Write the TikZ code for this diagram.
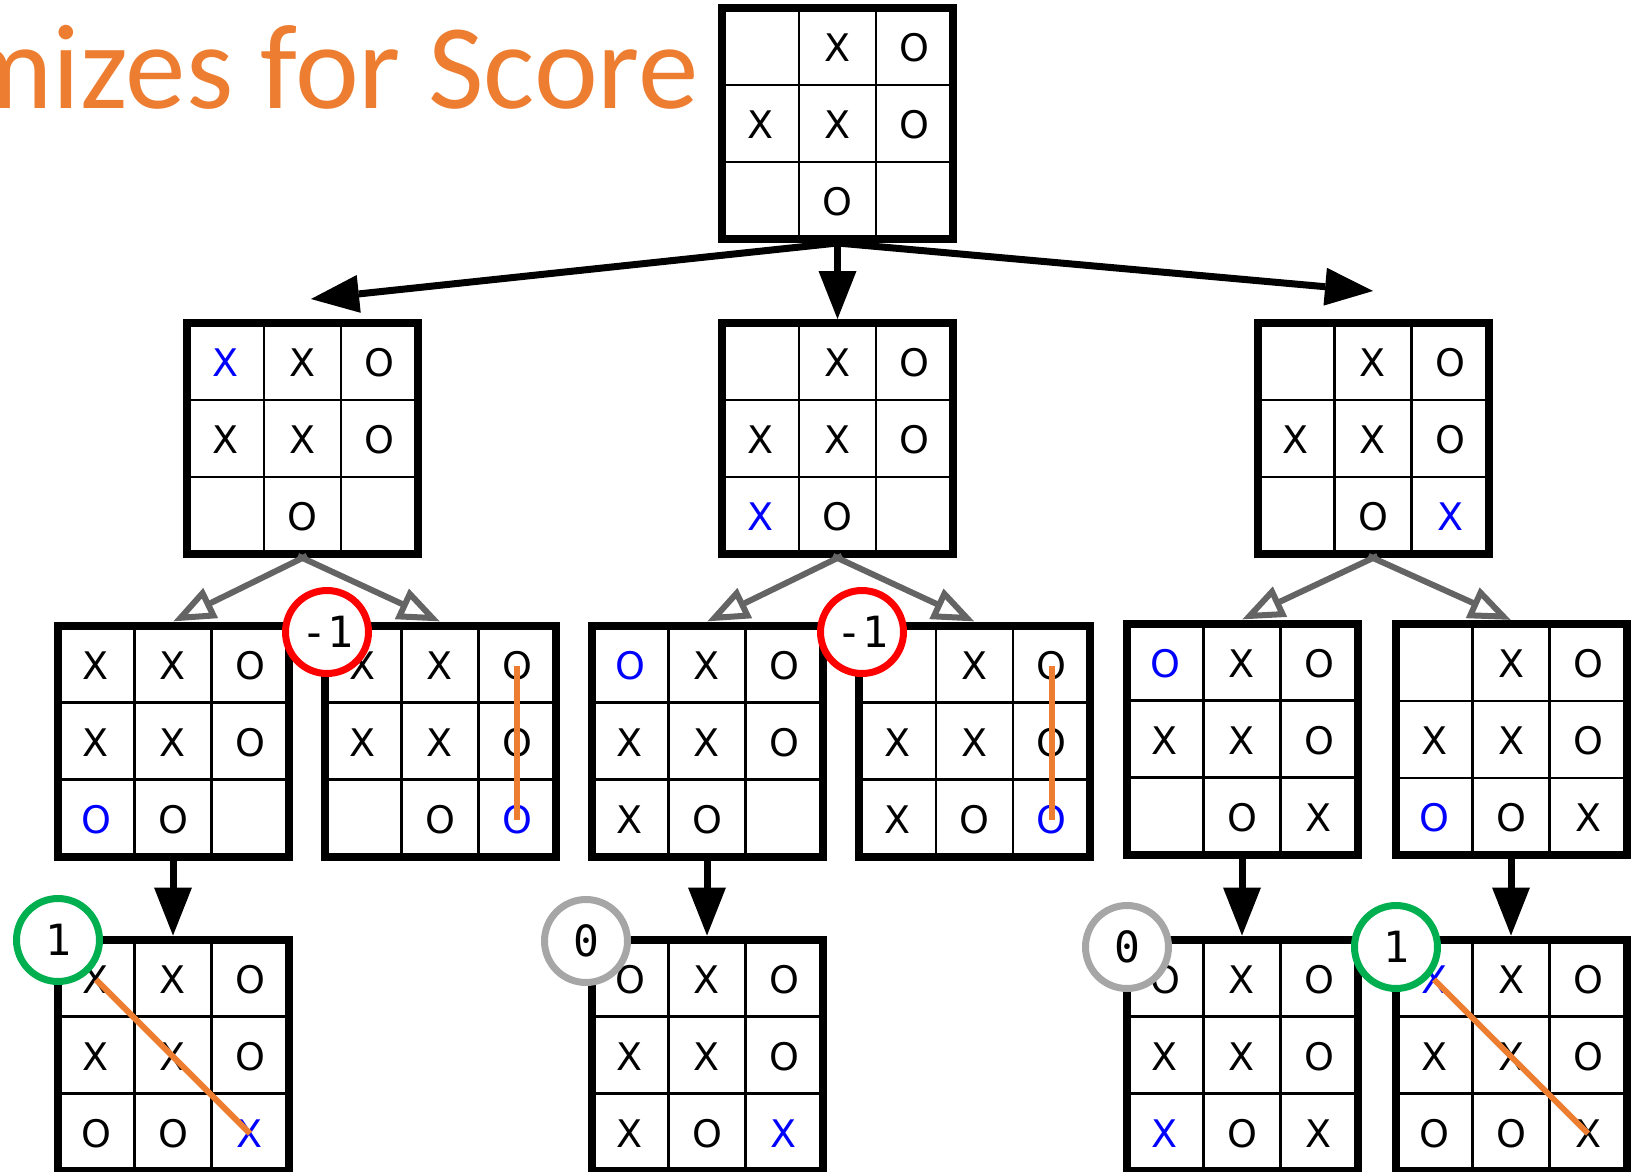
\documentclass[tikz,border=0pt]{standalone}
\usepackage{fontspec}
\setmainfont{DejaVu Sans}
\newfontfamily\monof{DejaVu Sans Mono}
\newfontfamily\titlef{Carlito}
\usetikzlibrary{arrows.meta,calc}
\definecolor{xorange}{RGB}{237,125,49}
\definecolor{xblue}{RGB}{0,0,255}
\definecolor{xgreen}{RGB}{0,176,80}
\definecolor{xred}{RGB}{255,0,0}
\definecolor{xgray}{RGB}{166,166,166}
\definecolor{arrgray}{RGB}{100,100,100}
\newcommand\bl[1]{\textcolor{xblue}{#1}}
\newcommand\tttboard[3]{%
  \node[board] (#1) at (#2) {};
  \draw[gridline] ($(#1.center)+(-38.5,-115.5)$) -- ++(0,231)
                  ($(#1.center)+(38.5,-115.5)$) -- ++(0,231)
                  ($(#1.center)+(-115.5,-38.5)$) -- ++(231,0)
                  ($(#1.center)+(-115.5,38.5)$) -- ++(231,0);
  \foreach \r/\c/\txt in {#3} {
    \node[cellmark] (#1-\r\c) at ($(#1.center)+(\c*77-154,\r*77-152.5)$) {\txt};
  }
}
\begin{document}
\begin{tikzpicture}[x=1pt,y=-1pt,
  board/.style={draw, line width=8pt, minimum size=231pt, inner sep=0pt, fill=white},
  gridline/.style={line width=2.5pt},
  cellmark/.style={inner sep=0pt, font=\fontsize{38}{40}\selectfont},
  bigarrow/.style={line width=7pt, -{Triangle[length=48pt,width=38pt,line width=0pt]}},
  grayarrow/.style={draw=arrgray, line width=6pt, -{Triangle[length=42pt,width=32pt,fill=white]}},
  winline/.style={draw=xorange, line width=6pt},
  scorecirc/.style={circle, fill=white, line width=7pt, minimum size=83pt, inner sep=0pt,
                    font=\monof\fontsize{43}{43}\selectfont},
  titletext/.style={anchor=base east, inner sep=0pt, text=xorange,
                    font=\titlef\fontsize{121}{121}\selectfont}]
\useasboundingbox (0,0) rectangle (1636,1172);
\clip (0,0) rectangle (1636,1172);

\node[titletext] (title) at (699,108) {mizes for Score};

% boards
\tttboard{top}{837.5,123.5}{1/2/X,1/3/O,2/1/X,2/2/X,2/3/O,3/2/O}
\tttboard{L2a}{302.5,438.5}{1/1/\bl{X},1/2/X,1/3/O,2/1/X,2/2/X,2/3/O,3/2/O}
\tttboard{L2m}{837.5,438.5}{1/2/X,1/3/O,2/1/X,2/2/X,2/3/O,3/1/\bl{X},3/2/O}
\tttboard{L2r}{1373,438.5}{1/2/X,1/3/O,2/1/X,2/2/X,2/3/O,3/2/O,3/3/\bl{X}}
\tttboard{L3a}{173,741}{1/1/X,1/2/X,1/3/O,2/1/X,2/2/X,2/3/O,3/1/\bl{O},3/2/O}
\tttboard{L3b}{440,741}{1/1/X,1/2/X,1/3/O,2/1/X,2/2/X,2/3/O,3/2/O,3/3/\bl{O}}
\tttboard{L3c}{707,741}{1/1/\bl{O},1/2/X,1/3/O,2/1/X,2/2/X,2/3/O,3/1/X,3/2/O}
\tttboard{L3d}{974.5,741}{1/2/X,1/3/O,2/1/X,2/2/X,2/3/O,3/1/X,3/2/O,3/3/\bl{O}}
\tttboard{L3e}{1242,739}{1/1/\bl{O},1/2/X,1/3/O,2/1/X,2/2/X,2/3/O,3/2/O,3/3/X}
\tttboard{L3f}{1511,739.5}{1/2/X,1/3/O,2/1/X,2/2/X,2/3/O,3/1/\bl{O},3/2/O,3/3/X}
\tttboard{L4a}{173,1055}{1/1/X,1/2/X,1/3/O,2/1/X,2/2/X,2/3/O,3/1/O,3/2/O,3/3/\bl{X}}
\tttboard{L4c}{707,1055}{1/1/O,1/2/X,1/3/O,2/1/X,2/2/X,2/3/O,3/1/X,3/2/O,3/3/\bl{X}}
\tttboard{L4e}{1242,1055}{1/1/O,1/2/X,1/3/O,2/1/X,2/2/X,2/3/O,3/1/\bl{X},3/2/O,3/3/X}
\tttboard{L4f}{1511,1055}{1/1/\bl{X},1/2/X,1/3/O,2/1/X,2/2/X,2/3/O,3/1/O,3/2/O,3/3/X}

% top arrows
\coordinate (tipL) at (311,299);
\coordinate (tipR) at (1373,291);
\draw[bigarrow, shorten <=-4pt] (top.south) -- (tipL);
\draw[bigarrow, shorten <=-4pt] (top.south) -- (tipR);
\draw[bigarrow, shorten <=-4pt] (top.south) -- (L2m.north);

% gray arrows
\draw[grayarrow, shorten <=-5pt] (L2a.south) -- (L3a.north);
\draw[grayarrow, shorten <=-5pt] (L2a.south) -- (L3b.north);
\draw[grayarrow, shorten <=-5pt] (L2m.south) -- (L3c.north);
\draw[grayarrow, shorten <=-5pt] (L2m.south) -- (L3d.north);
\draw[grayarrow, shorten <=-5pt] (L2r.south) -- (L3e.north);
\draw[grayarrow, shorten <=-5pt] (L2r.south) -- (L3f.north);

% bottom arrows
\draw[bigarrow] (L3a.south) -- (L4a.north);
\draw[bigarrow] (L3c.south) -- (L4c.north);
\draw[bigarrow] (L3e.south) -- (L4e.north);
\draw[bigarrow] (L3f.south) -- (L4f.north);

% win lines
\draw[winline] (L3b-13.center) -- (L3b-33.center);
\draw[winline] (L3d-13.center) -- (L3d-33.center);
\draw[winline] (L4a-11.center) -- (L4a-33.center);
\draw[winline] (L4f-11.center) -- (L4f-33.center);

% scores
\node[scorecirc, draw=xred] (sB) at (327,632) {-1};
\node[scorecirc, draw=xred] (sD) at (862,632) {-1};
\node[scorecirc, draw=xgreen] (sA4) at (58,940) {1};
\node[scorecirc, draw=xgray] (sC4) at (586,941) {0};
\node[scorecirc, draw=xgray] (sE4) at (1127,947) {0};
\node[scorecirc, draw=xgreen] (sF4) at (1396,947) {1};
\end{tikzpicture}
\end{document}
